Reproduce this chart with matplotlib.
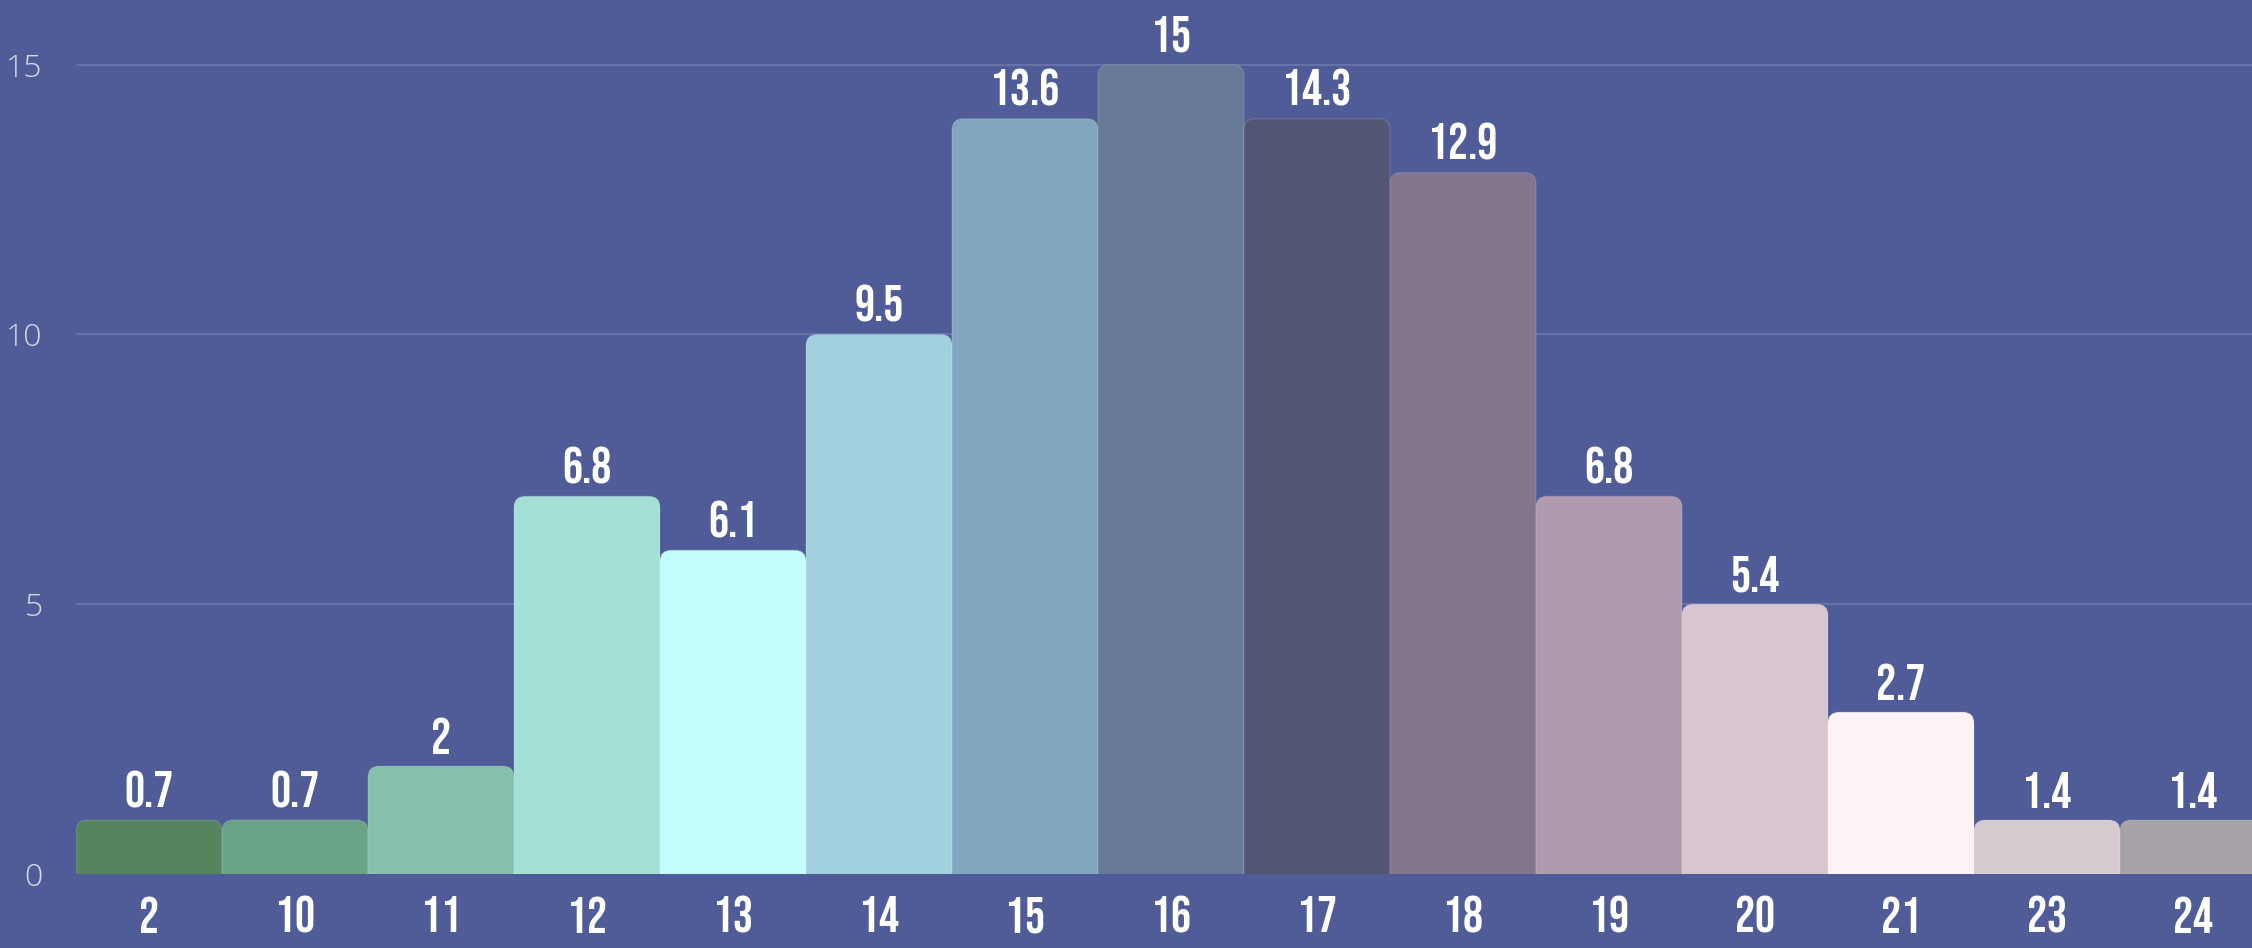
import matplotlib.pyplot as plt
from matplotlib.patches import FancyBboxPatch
from matplotlib import font_manager

# data
categories = ["2", "10", "11", "12", "13", "14", "15", "16", "17", "18", "19", "20", "21", "23", "24"]
bar_heights = [1, 1, 2, 7, 6, 10, 14, 15, 14, 13, 7, 5, 3, 1, 1]
value_labels = ["0.7", "0.7", "2", "6.8", "6.1", "9.5", "13.6", "15", "14.3", "12.9", "6.8", "5.4", "2.7", "1.4", "1.4"]
colors = ["#55845f", "#6aa287", "#86c0ad", "#a5e0d7", "#c4fdfd", "#a2d0de", "#82a6bf", "#677b98",
          "#535575", "#82768f", "#b09bae", "#d8c5cf", "#fff4f5", "#d4cad0", "#a7a2a8"]
yticks = [0, 5, 10, 15]

bg = "#505c97"
names = {f.name for f in font_manager.fontManager.ttflist}
cond = next((n for n in ["Bebas Neue", "Oswald", "Barlow Condensed", "DejaVu Sans"] if n in names))

fig = plt.figure(figsize=(22.52, 9.48), dpi=100, facecolor=bg)
# axes: left 76px, bottom at 874px, top at 0, right a bit past the figure edge
ax = fig.add_axes([76 / 2252, 74 / 948, 2190 / 2252, 874 / 948])
ax.set_facecolor(bg)

x = list(range(len(categories)))
bars = ax.bar(x, bar_heights, width=1.0, color=colors, zorder=2)

# swap the plain bars for ones with rounded tops
px_x = 2190 / len(categories)
px_y = 874 / 16.2
for b, c in zip(bars, colors):
    b.set_visible(False)
    r = 11 / px_x
    p = FancyBboxPatch((b.get_x(), -1), b.get_width(), b.get_height() + 1,
                       boxstyle=f"round,pad=0,rounding_size={r}",
                       mutation_aspect=px_x / px_y,
                       fc=c, ec=(1, 1, 1, 0.12), lw=1, zorder=2)
    ax.add_patch(p)

for xi, h, lab in zip(x, bar_heights, value_labels):
    ax.annotate(lab, (xi, h), xytext=(0, 9), textcoords="offset points",
                ha="center", va="bottom", color="white", fontsize=36, family=cond)

ax.set_xlim(-0.5, len(categories) - 0.5)
ax.set_ylim(0, 16.2)
ax.set_xticks(x)
ax.set_xticklabels(categories, color="white", fontsize=36, family=cond)
ax.set_yticks(yticks)
ax.set_yticklabels([str(t) for t in yticks], color="#d3d7e8", fontsize=23,
                   family="Open Sans", fontweight="light")
ax.tick_params(axis="x", length=0, pad=16)
ax.tick_params(axis="y", length=0, pad=24)
ax.grid(axis="y", color="#6a75aa", lw=1.3, zorder=0)
for s in ax.spines.values():
    s.set_visible(False)

fig.savefig("out.png", dpi=100, facecolor=bg)
